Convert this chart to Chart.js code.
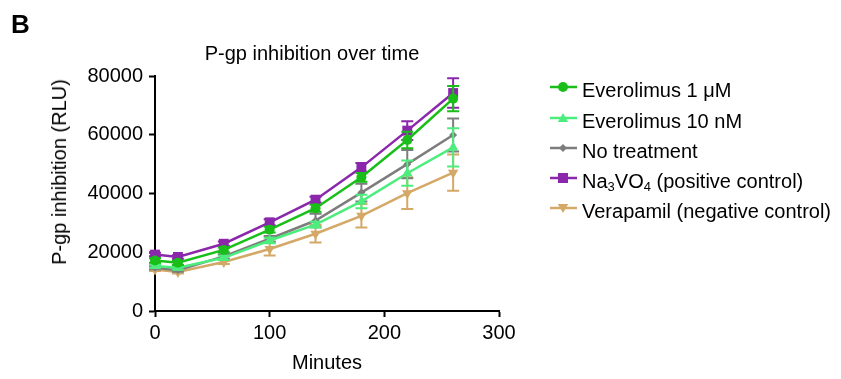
<!DOCTYPE html>
<html>
<head>
<meta charset="utf-8">
<script src="https://cdn.jsdelivr.net/npm/chart.js@4.4.0/dist/chart.umd.min.js"></script>
<style>
  body { margin: 0; background: #fff; font-family: "Liberation Sans", Arial, sans-serif; color: #000; }
  #marco { position: relative; width: 841px; height: 379px; overflow: hidden; }
  #grafico { position: absolute; left: 0; top: 0; }
  .texto { position: absolute; white-space: nowrap; font-size: 20px; line-height: 24px; }
  #letra { position: absolute; left: 11px; top: 11px; font-size: 26px; line-height: 26px; font-weight: bold; }
  #titulo { left: 312px; top: 53px; transform: translate(-50%, -50%); }
  #titulo-y { left: 59px; top: 172px; transform: translate(-50%, -50%) rotate(-90deg); }
  .fila { position: absolute; left: 548px; height: 30px; white-space: nowrap; font-size: 20px; line-height: 30px; }
  .fila svg { position: absolute; left: 0; top: 0; }
  .fila span { position: absolute; left: 34px; top: 3px; }
  sub { font-size: 13px; vertical-align: -3px; line-height: 0; }
</style>
</head>
<body>
<div id="marco">
  <canvas id="grafico" width="841" height="379"></canvas>
  <div id="letra">B</div>
  <div id="titulo" class="texto">P-gp inhibition over time</div>
  <div id="titulo-y" class="texto">P-gp inhibition (RLU)</div>
  <div id="leyenda"></div>
</div>
<script>
// Datos (media y error por punto)
var minutos = [0, 20, 60, 100, 140, 180, 220, 260];

var evero1uM = [17200, 16400, 20800, 27700, 35000, 45500, 58200, 72300];
var evero1uMErr = [800, 700, 800, 1000, 1200, 1500, 2800, 4300];
var evero10nM = [15300, 14700, 18100, 24000, 29400, 37300, 46900, 55700];
var evero10nMErr = [600, 600, 700, 900, 1000, 2300, 4300, 6500];
var sinTratamiento = [14700, 13900, 18600, 24600, 30800, 40300, 50000, 59900];
var sinTratamientoErr = [500, 500, 700, 900, 2300, 3000, 4800, 5600];
var na3vo4 = [19200, 18400, 22900, 30200, 37900, 48900, 61400, 74200];
var na3vo4Err = [600, 600, 800, 1000, 1000, 1500, 3200, 5000];
var verapamilo = [14100, 13300, 16700, 21100, 26300, 32400, 40100, 47100];
var verapamiloErr = [500, 500, 700, 2200, 3000, 4000, 5400, 6200];

var etiquetas = [
  'Everolimus 1 μM',
  'Everolimus 10 nM',
  'No treatment',
  'Na<sub>3</sub>VO<sub>4</sub> (positive control)',
  'Verapamil (negative control)'
];
var ticksX = [0, 100, 200, 300];
var ticksY = [0, 20000, 40000, 60000, 80000];

var series = [
  { valores: evero1uM, errores: evero1uMErr, color: '#19be19', forma: 'circle', radio: 5, giro: 0 },
  { valores: evero10nM, errores: evero10nMErr, color: '#4ced7c', forma: 'triangle', radio: 6, giro: 0 },
  { valores: sinTratamiento, errores: sinTratamientoErr, color: '#7d7d7d', forma: 'rectRot', radio: 4, giro: 0 },
  { valores: na3vo4, errores: na3vo4Err, color: '#8a27aa', forma: 'rect', radio: 7, giro: 0 },
  { valores: verapamilo, errores: verapamiloErr, color: '#d4a866', forma: 'triangle', radio: 6, giro: 180 }
];

Chart.defaults.font.family = '"Liberation Sans", Arial, sans-serif';
Chart.defaults.color = '#000';

// Barras de error dibujadas antes de cada serie, con las escalas del grafico
var pluginErrores = {
  id: 'barrasError',
  beforeDatasetDraw: function (chart, args) {
    var ds = chart.data.datasets[args.index];
    if (!ds.errores) { return; }
    var ctx = chart.ctx;
    var escY = chart.scales.y;
    ctx.save();
    ctx.strokeStyle = ds.borderColor;
    ctx.lineWidth = 2;
    args.meta.data.forEach(function (punto, i) {
      var media = ds.data[i].y;
      var arriba = escY.getPixelForValue(media + ds.errores[i]);
      var abajo = escY.getPixelForValue(media - ds.errores[i]);
      ctx.beginPath();
      ctx.moveTo(punto.x, arriba);
      ctx.lineTo(punto.x, abajo);
      ctx.moveTo(punto.x - 6, arriba);
      ctx.lineTo(punto.x + 6, arriba);
      ctx.moveTo(punto.x - 6, abajo);
      ctx.lineTo(punto.x + 6, abajo);
      ctx.stroke();
    });
    ctx.restore();
  }
};

var ejeComun = {
  grid: { drawOnChartArea: false, drawTicks: true, tickLength: 6, tickWidth: 2, tickColor: '#000' },
  border: { color: '#000', width: 2 }
};

function sinComas_(valor) { return String(valor); }

new Chart(document.getElementById('grafico'), {
  type: 'line',
  data: {
    datasets: series.map(function (s, k) {
      return {
        label: etiquetas[k],
        data: minutos.map(function (m, i) { return { x: m, y: s.valores[i] }; }),
        errores: s.errores,
        borderColor: s.color,
        backgroundColor: s.color,
        borderWidth: 2.5,
        pointStyle: s.forma,
        pointRadius: s.radio,
        pointRotation: s.giro,
        pointBorderWidth: 0,
        tension: 0,
        clip: false
      };
    })
  },
  options: {
    responsive: false,
    animation: false,
    devicePixelRatio: 1,
    layout: { padding: { left: 0, top: 76, right: 342, bottom: 0 } },
    plugins: { legend: { display: false }, title: { display: false }, tooltip: { enabled: false } },
    scales: {
      x: {
        type: 'linear', min: 0, max: 300,
        afterBuildTicks: function (s) { s.ticks = ticksX.map(function (v) { return { value: v }; }); },
        ticks: { font: { size: 20 }, padding: 4, maxRotation: 0, color: '#000', callback: sinComas_ },
        grid: ejeComun.grid, border: ejeComun.border,
        title: { display: true, text: 'Minutes', font: { size: 20 }, color: '#000', padding: { top: 0, bottom: 4 } },
        afterFit: function (s) { s.height = 68; }
      },
      y: {
        type: 'linear', min: 0, max: 80000,
        afterBuildTicks: function (s) { s.ticks = ticksY.map(function (v) { return { value: v }; }); },
        ticks: { font: { size: 20 }, padding: 6, color: '#000', callback: sinComas_ },
        grid: ejeComun.grid, border: ejeComun.border,
        afterFit: function (s) { s.width = 155; }
      }
    }
  },
  plugins: [pluginErrores]
});

// Leyenda en HTML (por el subindice de Na3VO4)
function simbolo_(s) {
  var c = s.color;
  var marca;
  if (s.forma === 'circle') {
    marca = '<circle cx="15" cy="15" r="5" fill="' + c + '"/>';
  } else if (s.forma === 'rect') {
    marca = '<rect x="10" y="10" width="10" height="10" fill="' + c + '"/>';
  } else if (s.forma === 'rectRot') {
    marca = '<polygon points="15,11 19,15 15,19 11,15" fill="' + c + '"/>';
  } else if (s.giro === 180) {
    marca = '<polygon points="15,20 20.2,11 9.8,11" fill="' + c + '"/>';
  } else {
    marca = '<polygon points="15,10 20.2,19 9.8,19" fill="' + c + '"/>';
  }
  return '<svg width="32" height="30"><line x1="2" y1="15" x2="29" y2="15" stroke="' + c + '" stroke-width="2.5"/>' + marca + '</svg>';
}

var filasY = [87, 118, 148, 178, 208];
document.getElementById('leyenda').innerHTML = series.map(function (s, k) {
  return '<div class="fila" style="top:' + (filasY[k] - 15) + 'px">' + simbolo_(s) + '<span>' + etiquetas[k] + '</span></div>';
}).join('');
</script>
</body>
</html>
